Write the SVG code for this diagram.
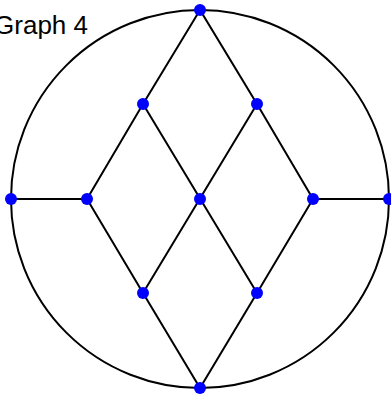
<svg xmlns="http://www.w3.org/2000/svg" width="391" height="396" viewBox="0 0 391 396">
<style>
.e{stroke:#000;stroke-width:2;fill:none}
.n{fill:#0000ff}
.t{font-family:"Liberation Sans",Arial,sans-serif;font-size:26px;fill:#000}
</style>
<rect width="391" height="396" fill="#fff"/>
<g id="connectors">
<circle class="e" cx="200" cy="199" r="189"/>
<path class="e" d="M200,10 L143,104 L87,199 L143,293 L200,388 L257,293 L313,199 L257,104 Z"/>
<path class="e" d="M143,104 L257,293 M257,104 L143,293 M11,199 L87,199 M313,199 L389,199"/>
</g>
<g id="n1"><circle class="n" cx="200" cy="10" r="6"/></g>
<g id="n2"><circle class="n" cx="143" cy="104" r="6"/></g>
<g id="n3"><circle class="n" cx="257" cy="104" r="6"/></g>
<g id="n4"><circle class="n" cx="11" cy="199" r="6"/></g>
<g id="n5"><circle class="n" cx="87" cy="199" r="6"/></g>
<g id="n6"><circle class="n" cx="200" cy="199" r="6"/></g>
<g id="n7"><circle class="n" cx="313" cy="199" r="6"/></g>
<g id="n8"><circle class="n" cx="389" cy="199" r="6"/></g>
<g id="n9"><circle class="n" cx="143" cy="293" r="6"/></g>
<g id="n10"><circle class="n" cx="257" cy="293" r="6"/></g>
<g id="n11"><circle class="n" cx="200" cy="388" r="6"/></g>
<text class="t" x="88" y="34" text-anchor="end">Graph 4</text>
</svg>
